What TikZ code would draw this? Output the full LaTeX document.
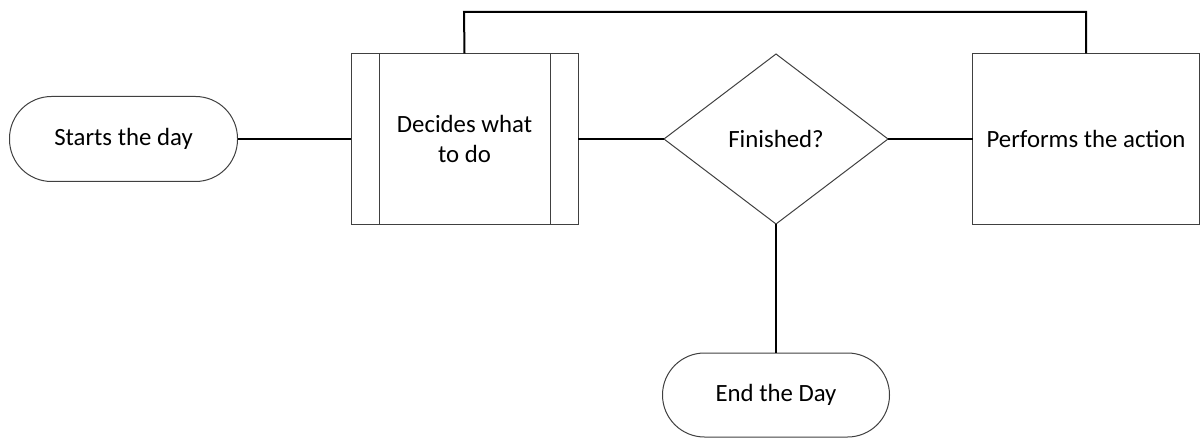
\documentclass[tikz,border=0pt]{standalone}
\usepackage{fontspec}
\setmainfont{Carlito}
\usetikzlibrary{shapes.geometric}
\definecolor{outline}{HTML}{404040}
\begin{document}
\begin{tikzpicture}[x=0.5pt,y=-0.5pt,
  every node/.style={inner sep=0pt,outer sep=0pt,font=\fontsize{12.4pt}{15pt}\selectfont,text=black},
  terminal/.style={draw=outline,line width=0.5pt,rounded corners=21pt,minimum width=114pt,minimum height=42.5pt},
  procbox/.style={draw=outline,line width=0.5pt,minimum width=113.5pt,minimum height=85.5pt},
  decision/.style={draw=outline,line width=0.5pt,diamond,minimum width=112pt,minimum height=85pt},
  link/.style={draw=black,line width=1pt}]
\useasboundingbox (0,0) rectangle (1204,438);

\node[terminal] (start) at (123.5,139) {Starts the day};
\node[procbox,align=center] (decide) at (464.5,139) {Decides what\\to do};
\draw[draw=outline,line width=0.5pt]
  ([xshift=14pt]decide.north west) -- ([xshift=14pt]decide.south west)
  ([xshift=-14pt]decide.north east) -- ([xshift=-14pt]decide.south east);
\node[decision] (finished) at (776,139) {Finished?};
\node[procbox] (perform) at (1086,139) {Performs the action};
\node[terminal,minimum width=113.5pt,minimum height=42pt] (end) at (776,395) {End the Day};

\coordinate (loop) at (464,12);

\draw[link] (start.east) -- (decide.west);
\draw[link] (decide.east) -- (finished.west);
\draw[link] (finished.east) -- (perform.west);
\draw[link] (finished.south) -- (end.north);
\draw[link] (decide.north) -- (loop) -| (perform.north);
\end{tikzpicture}
\end{document}
